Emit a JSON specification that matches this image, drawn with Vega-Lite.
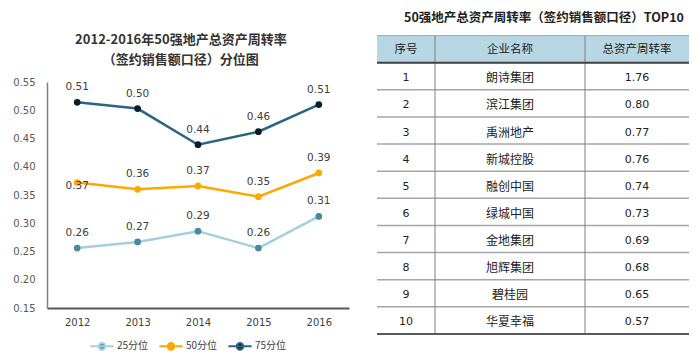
{
  "$schema": "https://vega.github.io/schema/vega-lite/v6.json",
  "background": "white",
  "padding": {"left": 12, "top": 11, "right": 5, "bottom": 5},
  "spacing": 27,
  "resolve": {"legend": {"color": "independent", "fill": "independent"}, "scale": {"color": "independent", "fill": "independent"}},
  "config": {"view": {"stroke": null}, "font": "Noto Sans CJK SC"},
  "datasets": {
    "quant": [
      {"year": "2012", "series": "25分位", "value": 0.256},
      {"year": "2013", "series": "25分位", "value": 0.267},
      {"year": "2014", "series": "25分位", "value": 0.286},
      {"year": "2015", "series": "25分位", "value": 0.256},
      {"year": "2016", "series": "25分位", "value": 0.312},
      {"year": "2012", "series": "50分位", "value": 0.372},
      {"year": "2013", "series": "50分位", "value": 0.360},
      {"year": "2014", "series": "50分位", "value": 0.366},
      {"year": "2015", "series": "50分位", "value": 0.347},
      {"year": "2016", "series": "50分位", "value": 0.389},
      {"year": "2012", "series": "75分位", "value": 0.514},
      {"year": "2013", "series": "75分位", "value": 0.503},
      {"year": "2014", "series": "75分位", "value": 0.439},
      {"year": "2015", "series": "75分位", "value": 0.462},
      {"year": "2016", "series": "75分位", "value": 0.510}
    ],
    "top10": [
      {"rank": 1, "company": "朗诗集团", "rate": 1.76},
      {"rank": 2, "company": "滨江集团", "rate": 0.80},
      {"rank": 3, "company": "禹洲地产", "rate": 0.77},
      {"rank": 4, "company": "新城控股", "rate": 0.76},
      {"rank": 5, "company": "融创中国", "rate": 0.74},
      {"rank": 6, "company": "绿城中国", "rate": 0.73},
      {"rank": 7, "company": "金地集团", "rate": 0.69},
      {"rank": 8, "company": "旭辉集团", "rate": 0.68},
      {"rank": 9, "company": "碧桂园", "rate": 0.65},
      {"rank": 10, "company": "华夏幸福", "rate": 0.57}
    ]
  },
  "hconcat": [
    {
      "width": 302,
      "height": 226,
      "data": {"name": "quant"},
      "title": {
        "text": " ",
        "fontSize": 10,
        "subtitle": ["2012-2016年50强地产总资产周转率", "（签约销售额口径）分位图"],
        "subtitleFont": "Noto Sans CJK SC",
        "subtitleFontSize": 13,
        "subtitleFontWeight": "bold",
        "subtitleColor": "#333333",
        "subtitleLineHeight": 20,
        "subtitlePadding": 11,
        "offset": 10,
        "anchor": "middle",
        "frame": "bounds"
      },
      "encoding": {
        "x": {
          "field": "year", "type": "ordinal",
          "scale": {"type": "point", "padding": 0.5},
          "axis": {"title": null, "labelAngle": 0, "ticks": false, "domainColor": "#595959", "domainWidth": 2, "labelPadding": 9, "labelFontSize": 10, "labelColor": "#404040", "labelFont": "DejaVu Sans"}
        },
        "y": {
          "field": "value", "type": "quantitative",
          "scale": {"domain": [0.15, 0.55], "nice": false, "zero": false},
          "axis": {"title": null, "values": [0.15, 0.2, 0.25, 0.3, 0.35, 0.4, 0.45, 0.5, 0.55], "format": ".2f", "grid": false, "ticks": false, "domainColor": "#7f7f7f", "domainWidth": 1.5, "labelPadding": 12, "labelFontSize": 10, "labelColor": "#595959", "labelFont": "DejaVu Sans"}
        }
      },
      "layer": [
        {
          "mark": {"type": "line", "strokeWidth": 2.5},
          "encoding": {
            "color": {
              "field": "series", "type": "nominal",
              "scale": {"domain": ["25分位", "50分位", "75分位"], "range": ["#a5cfdd", "#ffa800", "#2b6580"]},
              "legend": {
                "title": null, "orient": "none", "direction": "horizontal",
                "legendX": 42, "legendY": 251,
                "symbolType": "M-1,0H1M0.28,0A0.28,0.28 0 1,1 -0.28,0A0.28,0.28 0 1,1 0.28,0Z",
                "symbolSize": 540, "symbolStrokeWidth": 2,
                "labelFontSize": 10, "labelColor": "#404040", "labelFont": "Noto Sans CJK SC",
                "columnPadding": 6, "labelOffset": 2, "padding": 0,
                "encode": {"symbols": {"update": {"fill": {"scale": "fill", "field": "value"}, "stroke": {"scale": "color", "field": "value"}, "opacity": {"value": 1}, "fillOpacity": {"value": 1}}}}
              }
            }
          }
        },
        {
          "mark": {"type": "point", "filled": true, "size": 45, "opacity": 1},
          "encoding": {
            "fill": {
              "field": "series", "type": "nominal",
              "scale": {"domain": ["25分位", "50分位", "75分位"], "range": ["#4a88a0", "#ffa800", "#0a1e28"]},
              "legend": null
            }
          }
        },
        {
          "transform": [{"filter": "!(datum.year == '2012' && datum.series == '50分位')"}],
          "mark": {"type": "text", "dy": -15, "fontSize": 10.5, "color": "#404040", "font": "DejaVu Sans"},
          "encoding": {"text": {"field": "value", "type": "quantitative", "format": ".2f"}}
        },
        {
          "transform": [{"filter": "datum.year == '2012' && datum.series == '50分位'"}],
          "mark": {"type": "text", "dy": 3, "fontSize": 10.5, "color": "#404040", "font": "DejaVu Sans"},
          "encoding": {"text": {"field": "value", "type": "quantitative", "format": ".2f"}}
        }
      ]
    },
    {
      "width": 312,
      "height": 252,
      "encoding": {
        "x": {"type": "quantitative", "scale": {"domain": [0, 312], "nice": false, "zero": false}, "axis": null},
        "y": {"type": "quantitative", "scale": {"domain": [1.21, 10.5], "nice": false, "zero": false, "reverse": true}, "axis": null}
      },
      "layer": [
        {
          "data": {"values": [{}]},
          "mark": {"type": "text", "fontSize": 12.5, "fontWeight": "bold", "color": "#222222", "font": "Noto Sans CJK SC"},
          "encoding": {"x": {"datum": 167}, "y": {"datum": -1.16}, "text": {"value": "50强地产总资产周转率（签约销售额口径）TOP10"}}
        },
        {
          "data": {"values": [{}]},
          "mark": {"type": "rect", "color": "#b7d7e4"},
          "encoding": {"x": {"datum": 0}, "x2": {"datum": 312}, "y": {"datum": -0.5}, "y2": {"datum": 0.5}}
        },
        {
          "data": {"values": [{}]},
          "mark": {"type": "rule", "color": "#a6a6a6", "strokeWidth": 1},
          "encoding": {"x": {"datum": 0}, "x2": {"datum": 312}, "y": {"datum": -0.5}}
        },
        {
          "data": {"name": "top10"},
          "transform": [{"filter": "datum.rank < 10"}],
          "mark": {"type": "rule", "color": "#a6a6a6", "strokeWidth": 1.5, "yOffset": 13.5},
          "encoding": {"x": {"datum": 0}, "x2": {"datum": 312}, "y": {"field": "rank", "type": "quantitative"}}
        },
        {
          "data": {"values": [{}]},
          "mark": {"type": "rule", "color": "#7f7f7f", "strokeWidth": 1},
          "encoding": {"x": {"datum": 58}, "y": {"datum": -0.5}, "y2": {"datum": 10.5}}
        },
        {
          "data": {"values": [{}]},
          "mark": {"type": "rule", "color": "#7f7f7f", "strokeWidth": 1},
          "encoding": {"x": {"datum": 208}, "y": {"datum": -0.5}, "y2": {"datum": 10.5}}
        },
        {
          "data": {"values": [{}]},
          "mark": {"type": "rule", "color": "#404040", "strokeWidth": 2},
          "encoding": {"x": {"datum": 0}, "x2": {"datum": 312}, "y": {"datum": 0.5}}
        },
        {
          "data": {"values": [{}]},
          "mark": {"type": "rule", "color": "#595959", "strokeWidth": 2},
          "encoding": {"x": {"datum": 0}, "x2": {"datum": 312}, "y": {"datum": 10.5}}
        },
        {
          "data": {"values": [{}]},
          "mark": {"type": "text", "fontSize": 11.5, "color": "#222222", "dy": 1},
          "encoding": {"x": {"datum": 29}, "y": {"datum": 0}, "text": {"value": "序号"}}
        },
        {
          "data": {"values": [{}]},
          "mark": {"type": "text", "fontSize": 11.5, "color": "#222222", "dy": 1},
          "encoding": {"x": {"datum": 133}, "y": {"datum": 0}, "text": {"value": "企业名称"}}
        },
        {
          "data": {"values": [{}]},
          "mark": {"type": "text", "fontSize": 11.5, "color": "#222222", "dy": 1},
          "encoding": {"x": {"datum": 260}, "y": {"datum": 0}, "text": {"value": "总资产周转率"}}
        },
        {
          "data": {"name": "top10"},
          "mark": {"type": "text", "fontSize": 11, "color": "#222222", "dy": 2, "font": "DejaVu Sans"},
          "encoding": {"x": {"datum": 29}, "y": {"field": "rank", "type": "quantitative"}, "text": {"field": "rank", "type": "quantitative"}}
        },
        {
          "data": {"name": "top10"},
          "mark": {"type": "text", "fontSize": 12, "color": "#222222", "dy": 2, "font": "Noto Sans CJK SC"},
          "encoding": {"x": {"datum": 133}, "y": {"field": "rank", "type": "quantitative"}, "text": {"field": "company", "type": "nominal"}}
        },
        {
          "data": {"name": "top10"},
          "mark": {"type": "text", "fontSize": 11, "color": "#222222", "dy": 2, "font": "DejaVu Sans"},
          "encoding": {"x": {"datum": 260}, "y": {"field": "rank", "type": "quantitative"}, "text": {"field": "rate", "type": "quantitative", "format": ".2f"}}
        }
      ]
    }
  ]
}
